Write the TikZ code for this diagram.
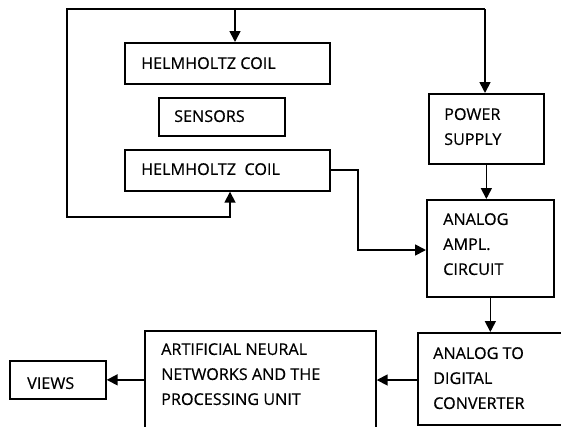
\documentclass[tikz,border=0pt]{standalone}
\usepackage{fontspec}
\setmainfont{Open Sans}
\newfontfamily\blockfont{Open Sans}[FakeBold=0.4]
\usetikzlibrary{arrows.meta}

\tikzset{
  blk/.style 2 args={draw, line width=1.7pt, rectangle, anchor=north west,
    minimum width=#1pt, minimum height=#2pt, inner sep=0pt},
  lbl/.style={anchor=north west, inner sep=0pt, align=left,
    font=\blockfont\fontsize{16.2}{25}\selectfont},
  wire/.style={line width=1.7pt},
  arr/.style={wire, -{Triangle[length=11pt,width=11pt]}},
}

\begin{document}
\begin{tikzpicture}[x=1pt,y=-1pt]
  \useasboundingbox (0,0) rectangle (561,426);
  \clip (0,0) rectangle (561,426);

  % sensor head: two coils with the sensors between them
  \node[blk={205}{41}]  (hc1) at (124,42)  {};
  \node[blk={126}{38}]  (sen) at (158,97)  {};
  \node[blk={205}{41}]  (hc2) at (124,149) {};

  % signal chain
  \node[blk={115}{70}]  (ps)  at (428,93)  {};
  \node[blk={127}{97}]  (amp) at (426,199) {};
  \node[blk={200}{92}]  (adc) at (417,332) {};
  \node[blk={231}{110}] (ann) at (144,330) {};
  \node[blk={96}{38}]   (vw)  at (9,360)   {};

  % block texts
  \node[lbl] (hc1t) at (141,57)  {HELMHOLTZ COIL};
  \node[lbl] (sent) at (174,110) {SENSORS};
  \node[lbl] (hc2t) at (141,163) {HELMHOLTZ~~COIL};
  \node[lbl] (pst)  at (444,108) {POWER\\SUPPLY};
  \node[lbl] (ampt) at (443,213) {ANALOG\\AMPL.\\CIRCUIT};
  \node[lbl] (adct) at (433,347) {ANALOG TO\\DIGITAL\\CONVERTER};
  \node[lbl] (annt) at (161,343) {ARTIFICIAL NEURAL\\NETWORKS AND THE\\PROCESSING UNIT};
  \node[lbl] (vwt)  at (27,377)  {VIEWS};

  % supply loop around the coils
  \coordinate (tl) at (67,9);
  \coordinate (tr) at (485,9);
  \coordinate (tc) at (235,9);
  \coordinate (bl) at (67,217);
  \coordinate (bc) at (230,217);
  \draw[arr] (tr) -- (tl) -- (bl) -- (bc) -- (bc |- hc2.south);
  \draw[arr] (tc) -- (tc |- hc1.north);
  \draw[arr] (tr) -- (tr |- ps.north);

  % connections between blocks
  \draw[arr] (ps.south) -- (ps.south |- amp.north);
  \coordinate (jn) at (358,170);
  \draw[arr] (hc2.east |- jn) -- (jn) |- (amp.west |- 0,250);
  \draw[arr] (amp.south) -- (amp.south |- adc.north);
  \draw[arr] (adc.west |- 0,380) -- (ann.east |- 0,380);
  \draw[arr] (ann.west |- vw.east) -- (vw.east);
\end{tikzpicture}
\end{document}
